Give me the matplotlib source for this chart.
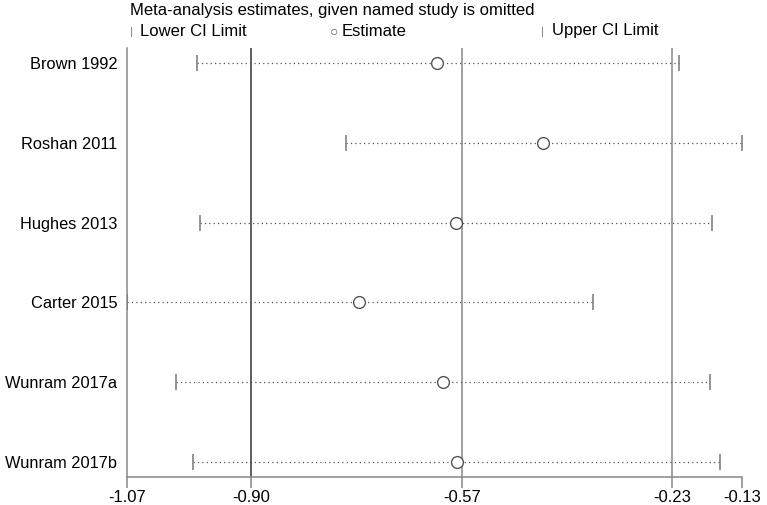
import matplotlib.pyplot as plt
import numpy as np

plt.rcParams['font.family'] = ['Liberation Sans', 'DejaVu Sans']

studies = ['Brown 1992', 'Roshan 2011', 'Hughes 2013', 'Carter 2015',
           'Wunram 2017a', 'Wunram 2017b']
lower = [-0.963, -0.735, -0.958, -1.070, -0.995, -0.969]
estimate = [-0.596, -0.434, -0.567, -0.715, -0.587, -0.566]
upper = [-0.226, -0.130, -0.176, -0.358, -0.179, -0.164]

# overall lower CI, estimate, upper CI (reference lines)
overall = [-0.880, -0.558, -0.237]
tick_vals = [-1.07, -0.880, -0.558, -0.237, -0.13]
tick_labels = ['-1.07', '-0.90', '-0.57', '-0.23', '-0.13']

fig = plt.figure(figsize=(7.67, 5.05), dpi=100)
ax = fig.add_axes([127 / 767, 1 - 477 / 505, 615 / 767, 429 / 505])

y = np.arange(1, len(studies) + 1)

ax.axvline(overall[0], color='#333333', lw=1.1, zorder=1)
ax.axvline(overall[1], color='#888888', lw=1.1, zorder=1)
ax.axvline(overall[2], color='#888888', lw=1.1, zorder=1)

ax.hlines(y, lower, upper, colors='#555555', linestyles=(0, (1, 2.5)), lw=0.9, zorder=2)
ax.plot(lower, y, ls='none', marker='|', ms=12, mew=1.1, color='#777777', zorder=3)
ax.plot(upper, y, ls='none', marker='|', ms=12, mew=1.1, color='#777777', zorder=3)
ax.plot(estimate, y, ls='none', marker='o', ms=8.5, mfc='white', mec='#555555',
        mew=1.0, zorder=4)

ax.set_xlim(-1.07, -0.13)
ax.set_ylim(6.19, 0.81)
ax.set_yticks(y)
ax.set_yticklabels(studies, fontsize=11.8)
ax.tick_params(axis='y', length=0, pad=7)
ax.set_xticks(tick_vals)
ax.set_xticklabels(tick_labels, fontsize=12)
ax.tick_params(axis='x', length=8, width=1.1, color='#888888', pad=1)

for s in ['top', 'right']:
    ax.spines[s].set_visible(False)
for s in ['left', 'bottom']:
    ax.spines[s].set_color('#888888')
    ax.spines[s].set_linewidth(1.1)

fig.text(130 / 767, 1 - 11 / 505, 'Meta-analysis estimates, given named study is omitted',
         fontsize=12, va='center', ha='left')

# legend row
fig.text(130 / 767, 1 - 32 / 505, '|', fontsize=8, color='#777777', va='center', ha='left')
fig.text(140 / 767, 1 - 31 / 505, 'Lower CI Limit', fontsize=12, va='center', ha='left')
fig.text(330 / 767, 1 - 31 / 505, '\u25cb', fontsize=10, color='#555555', va='center',
         ha='left', family=['Liberation Sans', 'DejaVu Sans'])
fig.text(342 / 767, 1 - 31 / 505, 'Estimate', fontsize=12, va='center', ha='left')
fig.text(541 / 767, 1 - 32 / 505, '|', fontsize=8, color='#777777', va='center', ha='left')
fig.text(552 / 767, 1 - 31 / 505, 'Upper CI Limit', fontsize=12, va='center', ha='left')

fig.savefig('out.png', dpi=100)
